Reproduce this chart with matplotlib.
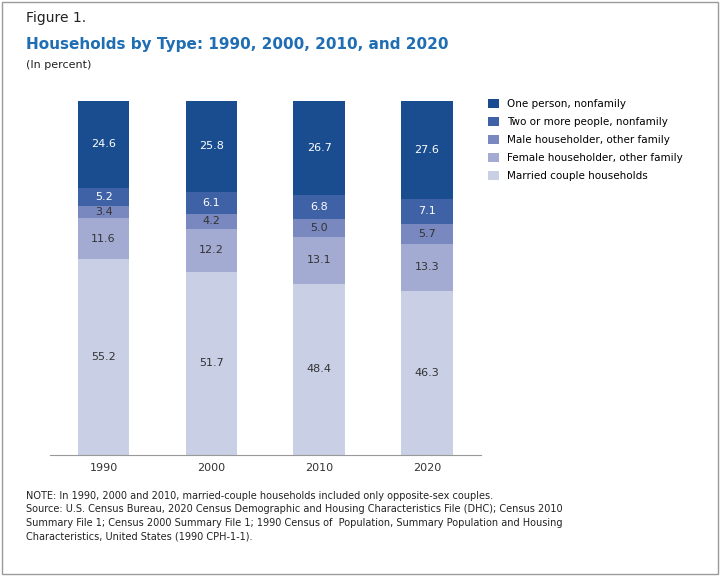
import matplotlib.pyplot as plt
from matplotlib.patches import Rectangle

years = ["1990", "2000", "2010", "2020"]
married = [55.2, 51.7, 48.4, 46.3]
female = [11.6, 12.2, 13.1, 13.3]
male = [3.4, 4.2, 5.0, 5.7]
two_more = [5.2, 6.1, 6.8, 7.1]
one_person = [24.6, 25.8, 26.7, 27.6]

series = [
    ("Married couple households", married, "#c9cfe5"),
    ("Female householder, other family", female, "#a4abd2"),
    ("Male householder, other family", male, "#7a88c0"),
    ("Two or more people, nonfamily", two_more, "#3f61a6"),
    ("One person, nonfamily", one_person, "#1a4d8f"),
]

fig = plt.figure(figsize=(7.2, 5.76), dpi=100)
fig.patches.append(Rectangle((0.003, 0.003), 0.994, 0.994, transform=fig.transFigure,
                             fill=False, edgecolor="#9a9a9a", linewidth=1))
ax = fig.add_axes([0.069, 0.21, 0.599, 0.615])

x = list(range(len(years)))
bottom = [0] * len(years)
handles = []
for name, vals, color in series:
    b = ax.bar(x, vals, width=0.48, bottom=bottom, color=color, label=name)
    handles.append(b)
    dark = color in ("#1a4d8f", "#3f61a6")
    for xi, v, b0 in zip(x, vals, bottom):
        ax.text(xi, b0 + v / 2, f"{v:.1f}", ha="center", va="center", fontsize=8,
                color="white" if dark else "#333333")
    bottom = [a + v for a, v in zip(bottom, vals)]

ax.set_xlim(-0.5, 3.5)
ax.set_ylim(0, 100)
ax.set_xticks(x)
ax.set_xticklabels(years, fontsize=8, color="#333333")
ax.tick_params(axis="x", length=0, pad=6)
ax.set_yticks([])
for s in ["top", "right", "left"]:
    ax.spines[s].set_visible(False)
ax.spines["bottom"].set_color("#999999")

fig.legend(handles[::-1], [s[0] for s in series][::-1], loc="upper left",
           bbox_to_anchor=(0.665, 0.845), frameon=False, fontsize=7.5,
           handlelength=1.0, handleheight=1.0, labelspacing=0.75, handletextpad=0.8)

fig.text(0.036, 0.968, "Figure 1.", fontsize=10, color="#222222", va="center")
fig.text(0.036, 0.922, "Households by Type: 1990, 2000, 2010, and 2020", fontsize=11,
         fontweight="bold", color="#1f6db3", va="center")
fig.text(0.036, 0.887, "(In percent)", fontsize=8, color="#222222", va="center")

notes = ("NOTE: In 1990, 2000 and 2010, married-couple households included only opposite-sex couples.\n"
         "Source: U.S. Census Bureau, 2020 Census Demographic and Housing Characteristics File (DHC); Census 2010\n"
         "Summary File 1; Census 2000 Summary File 1; 1990 Census of  Population, Summary Population and Housing\n"
         "Characteristics, United States (1990 CPH-1-1).")
fig.text(0.036, 0.148, notes, fontsize=7, color="#222222", va="top", linespacing=1.45)

fig.savefig("out.png", dpi=100)
